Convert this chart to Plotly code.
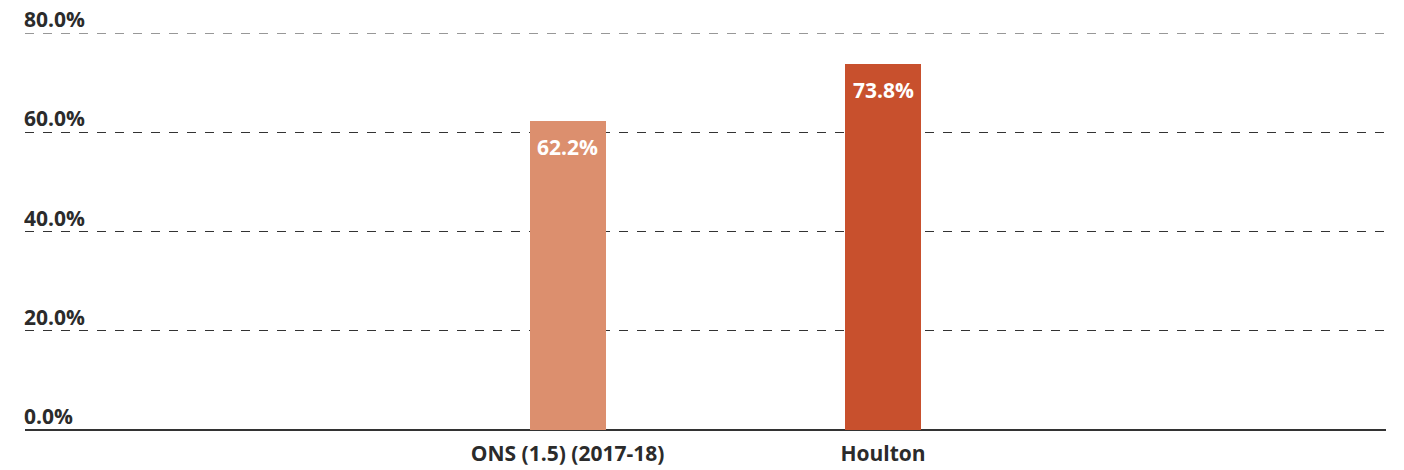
import plotly.graph_objects as go

categories = ["ONS (1.5) (2017-18)", "Houlton"]
values = [62.2, 73.8]
bar_colors = ["#DC8F6E", "#C8502D"]
tick_vals = [0, 20, 40, 60, 80]
tick_text = ["0.0%", "20.0%", "40.0%", "60.0%", "80.0%"]

FONT = "Open Sans"
TXT = "#2b2b2b"
FS = 21

fig = go.Figure()
fig.add_trace(go.Bar(
    x=categories, y=values, width=0.241,
    marker=dict(color=bar_colors, line=dict(width=0)),
    hoverinfo="skip",
))

annotations = []
for c, v in zip(categories, values):
    annotations.append(dict(
        x=c, y=v, xref="x", yref="y", text=f"<b>{v:.1f}%</b>",
        showarrow=False, yanchor="top", xanchor="center", yshift=-10,
        font=dict(family=FONT, size=FS, color="white"),
    ))
for tv, tt in zip(tick_vals, tick_text):
    annotations.append(dict(
        x=0, y=tv, xref="paper", yref="y", text=f"<b>{tt}</b>",
        showarrow=False, yanchor="bottom", xanchor="left", yshift=2, xshift=-2,
        height=22, valign="middle", borderpad=0,
        font=dict(family=FONT, size=FS, color=TXT),
    ))

# top gridline (at the range edge, not drawn by the axis grid)
shapes = [dict(
    type="line", xref="paper", yref="y", x0=0, x1=1,
    y0=tick_vals[-1], y1=tick_vals[-1],
    line=dict(color="#333333", width=1, dash="dash"), layer="below",
)]

fig.update_layout(
    width=1404, height=470,
    margin=dict(l=25, r=18, t=33, b=40),
    paper_bgcolor="white", plot_bgcolor="white",
    showlegend=False,
    bargap=0,
    annotations=annotations,
    shapes=shapes,
    xaxis=dict(
        type="category", range=[-1.7195, 2.594],
        showgrid=False, zeroline=False, automargin=False,
        showline=False, ticks="",
        tickfont=dict(family=FONT, size=FS, color=TXT),
        ticklabelstandoff=9,
        tickvals=categories,
        ticktext=[f"<b>{c}</b>" for c in categories],
    ),
    yaxis=dict(
        range=[0, 80], tickvals=tick_vals, showticklabels=False,
        automargin=False,
        showgrid=True, gridcolor="#333333", griddash="dash", gridwidth=1,
        zeroline=True, zerolinecolor="#333333", zerolinewidth=1.5,
        showline=False, fixedrange=True,
    ),
)

fig.write_html(
    "out.html",
    config={"displayModeBar": False},
    post_script="document.body.style.margin='0';document.body.style.overflow='hidden';",
)
